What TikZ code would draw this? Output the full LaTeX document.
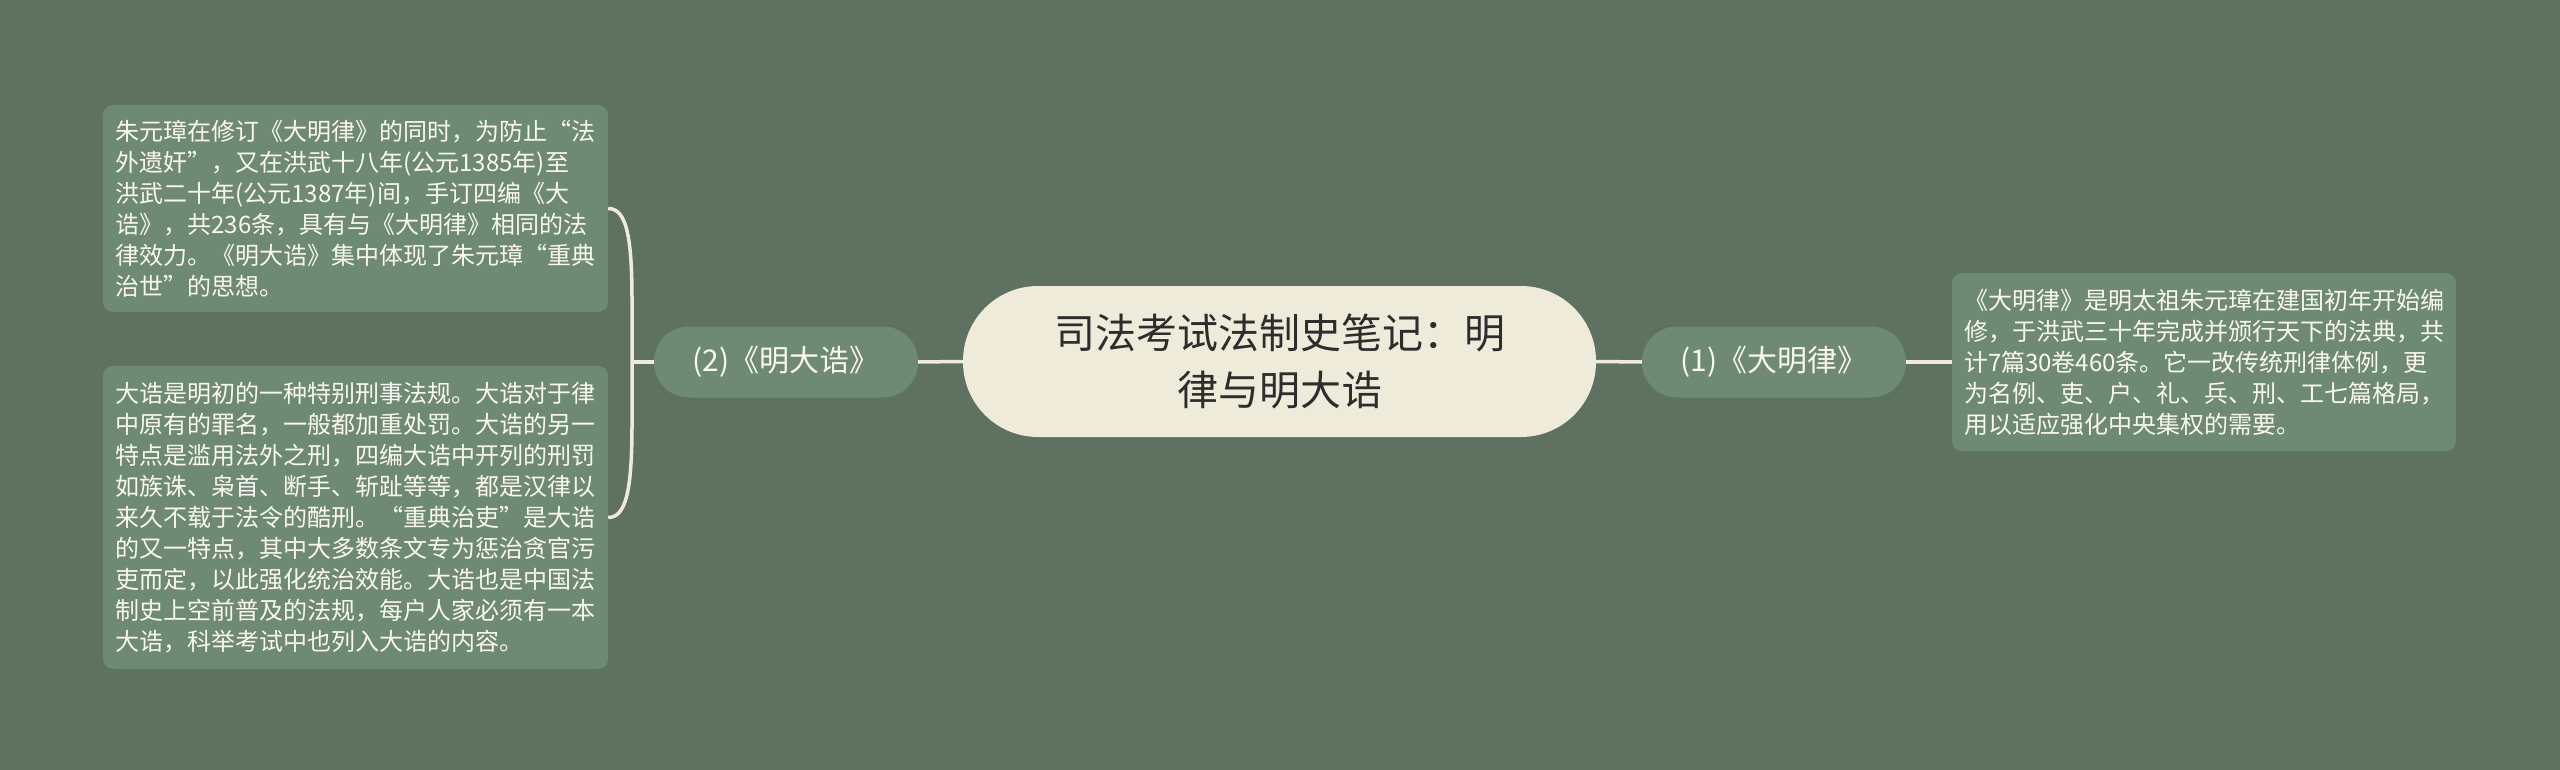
\documentclass[tikz,border=0pt]{standalone}
\usepackage{fontspec}
\newfontfamily\cjk{Noto Sans CJK SC}
\definecolor{bgc}{RGB}{95,114,98}
\definecolor{boxc}{RGB}{110,138,116}
\definecolor{creamc}{RGB}{239,235,218}
\definecolor{titlec}{RGB}{45,45,45}
\definecolor{txtc}{RGB}{250,248,240}
\tikzset{
  conn/.style={draw=creamc, line width=3.5pt},
  centernode/.style={fill=creamc, rounded corners=75pt, minimum width=633pt, minimum height=151pt, inner sep=0pt, text=titlec, align=center, font=\cjk\fontsize{41}{57}\selectfont},
  branchnode/.style={fill=boxc, rounded corners=35pt, minimum width=264pt, minimum height=71pt, inner sep=0pt, text=txtc, font=\cjk\fontsize{30}{36}\selectfont},
  leafbox/.style={fill=boxc, rounded corners=10pt, inner sep=0pt, text=txtc, text width=480pt, align=left, font=\cjk\fontsize{24}{31}\selectfont},
}
\begin{document}
\begin{tikzpicture}[x=1pt,y=-1pt]
\fill[bgc] (0,0) rectangle (2560,770);
\useasboundingbox (0,0) rectangle (2560,770);

\node[centernode] (c) at (1279.5,361.5) {司法考试法制史笔记：明\\律与明大诰};
\node[branchnode] (l) at (786,362) {(2)《明大诰》};
\node[branchnode] (r) at (1774,362) {(1)《大明律》};

\node[leafbox, minimum width=505pt, minimum height=207pt] (b1) at (355.5,208.5) {朱元璋在修订《大明律》的同时，为防止“法\\外遗奸”，又在洪武十八年(公元1385年)至\\洪武二十年(公元1387年)间，手订四编《大\\诰》，共236条，具有与《大明律》相同的法\\律效力。《明大诰》集中体现了朱元璋“重典\\治世”的思想。};
\node[leafbox, minimum width=505pt, minimum height=303pt] (b2) at (355.5,517.5) {大诰是明初的一种特别刑事法规。大诰对于律\\中原有的罪名，一般都加重处罚。大诰的另一\\特点是滥用法外之刑，四编大诰中开列的刑罚\\如族诛、枭首、断手、斩趾等等，都是汉律以\\来久不载于法令的酷刑。“重典治吏”是大诰\\的又一特点，其中大多数条文专为惩治贪官污\\吏而定，以此强化统治效能。大诰也是中国法\\制史上空前普及的法规，每户人家必须有一本\\大诰，科举考试中也列入大诰的内容。};
\node[leafbox, minimum width=504pt, minimum height=178pt] (b3) at (2204,362) {《大明律》是明太祖朱元璋在建国初年开始编\\修，于洪武三十年完成并颁行天下的法典，共\\计7篇30卷460条。它一改传统刑律体例，更\\为名例、吏、户、礼、兵、刑、工七篇格局，\\用以适应强化中央集权的需要。};

\coordinate (br) at (632,362);
\draw[conn] (c.west) -- (l.east);
\draw[conn] (c.east) -- (r.west);
\draw[conn] (r.east) -- (b3.west);
\draw[conn] (l.west) -- (br);
\draw[conn] (br) -- (632,300) .. controls (632,235) and (626,208.5) .. (b1.east);
\draw[conn] (br) -- (632,425) .. controls (632,490) and (626,517.5) .. (b2.east);
\end{tikzpicture}
\end{document}
